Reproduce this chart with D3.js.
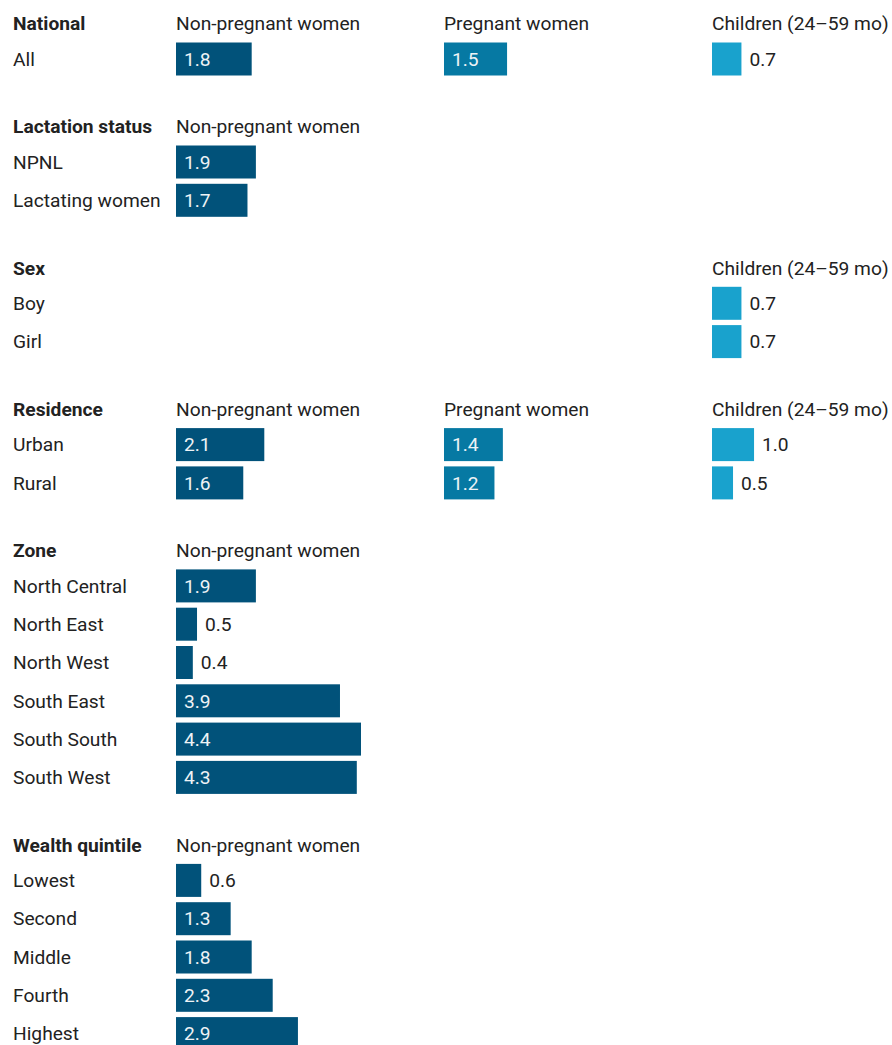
<!DOCTYPE html>
<html>
<head>
<meta charset="utf-8">
<script src="https://cdn.jsdelivr.net/npm/d3@7"></script>
<style>
  html, body { margin: 0; padding: 0; background: #fff; }
  svg { display: block; font-family: Roboto, "Noto Sans", sans-serif; }
</style>
</head>
<body>
<svg id="chart" width="892" height="1045"></svg>
<script>
// Population groups (columns)
const groups = ["Non-pregnant women", "Pregnant women", "Children (24–59 mo)"];
const groupColors = ["#01527a", "#0679a3", "#19a2cd"];

// Sections, their row labels and which groups they report
const sections = ["National", "Lactation status", "Sex", "Residence", "Zone", "Wealth quintile"];
const sectionGroups = [[0, 1, 2], [0], [2], [0, 1, 2], [0], [0]];

const nationalRows = ["All"];
const nationalNonPregnant = [1.8];
const nationalPregnant = [1.5];
const nationalChildren = [0.7];

const lactationRows = ["NPNL", "Lactating women"];
const lactationNonPregnant = [1.9, 1.7];

const sexRows = ["Boy", "Girl"];
const sexChildren = [0.7, 0.7];

const residenceRows = ["Urban", "Rural"];
const residenceNonPregnant = [2.1, 1.6];
const residencePregnant = [1.4, 1.2];
const residenceChildren = [1.0, 0.5];

const zoneRows = ["North Central", "North East", "North West", "South East", "South South", "South West"];
const zoneNonPregnant = [1.9, 0.5, 0.4, 3.9, 4.4, 4.3];

const wealthRows = ["Lowest", "Second", "Middle", "Fourth", "Highest"];
const wealthNonPregnant = [0.6, 1.3, 1.8, 2.3, 2.9];

// Values per section, indexed by group (null = not reported)
const sectionRows = [nationalRows, lactationRows, sexRows, residenceRows, zoneRows, wealthRows];
const sectionValues = [
  [nationalNonPregnant, nationalPregnant, nationalChildren],
  [lactationNonPregnant, null, null],
  [null, null, sexChildren],
  [residenceNonPregnant, residencePregnant, residenceChildren],
  [zoneNonPregnant, null, null],
  [wealthNonPregnant, null, null]
];

const svg = d3.select("#chart");

// Layout constants
const labelX = 13;
const colX = [176, 444, 712];
const headerToRow = 35.5;
const rowStep = 38.3;
const sectionGap = 67.5;
const barH = 33;
const fontSize = 19.2;
const textColor = "#222";

const x = d3.scaleLinear().domain([0, 4.4]).range([0, 185]);

let y = 23.5;
sections.forEach((sec, si) => {
  const g = svg.append("g");
  // section header
  g.append("text")
    .attr("x", labelX).attr("y", y).attr("dy", "0.35em")
    .attr("font-size", fontSize).attr("font-weight", 700).attr("fill", textColor)
    .text(sec);
  sectionGroups[si].forEach(gi => {
    g.append("text")
      .attr("x", colX[gi]).attr("y", y).attr("dy", "0.35em")
      .attr("font-size", fontSize).attr("fill", textColor)
      .text(groups[gi]);
  });

  const rows = sectionRows[si];
  const rowY = rows.map((_, i) => y + headerToRow + i * rowStep);

  rows.forEach((r, i) => {
    g.append("text")
      .attr("x", labelX).attr("y", rowY[i]).attr("dy", "0.35em")
      .attr("font-size", fontSize).attr("fill", textColor)
      .text(r);
  });

  sectionValues[si].forEach((vals, gi) => {
    if (!vals) return;
    const data = vals.map((v, i) => ({ v, cy: rowY[i] }));
    const col = g.append("g").attr("transform", `translate(${colX[gi]},0)`);
    col.selectAll("rect").data(data).join("rect")
      .attr("x", 0)
      .attr("y", d => d.cy - barH / 2)
      .attr("width", d => x(d.v))
      .attr("height", barH)
      .attr("fill", groupColors[gi]);
    col.selectAll("text").data(data).join("text")
      .attr("x", d => x(d.v) > 45 ? 8 : x(d.v) + 8)
      .attr("y", d => d.cy)
      .attr("dy", "0.35em")
      .attr("font-size", fontSize)
      .attr("fill", d => x(d.v) > 45 ? "#eef3f6" : textColor)
      .text(d => d3.format(".1f")(d.v));
  });

  y = rowY[rowY.length - 1] + sectionGap;
});
</script>
</body>
</html>
